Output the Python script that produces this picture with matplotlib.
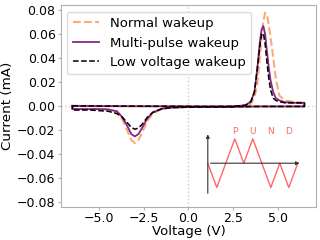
import numpy as np
import matplotlib
matplotlib.use('Agg')
import matplotlib.pyplot as plt

# forward sweep (negative -> positive)
v_fwd = [-6.5, -5, -3, -1, 1, 2.5, 3.2, 3.5, 3.7, 3.85, 4.0, 4.1, 4.2, 4.3, 4.4, 4.5,
         4.6, 4.75, 4.9, 5.1, 5.4, 6.0, 6.5]
normal_fwd = [0.0005, 0.0003, 0.0002, 0.0001, 0.0, 0.0, 0.0005, 0.002, 0.008, 0.017, 0.040,
              0.057, 0.071, 0.078, 0.077, 0.068, 0.058, 0.041, 0.023, 0.009, 0.005, 0.0035, 0.003]
multi_fwd = [0.0005, 0.0003, 0.0002, 0.0001, 0.0, 0.0, 0.001, 0.004, 0.012, 0.030, 0.053,
             0.064, 0.067, 0.060, 0.046, 0.033, 0.022, 0.012, 0.007, 0.005, 0.0035, 0.003, 0.003]
low_fwd = [0.0005, 0.0003, 0.0002, 0.0001, 0.0, 0.0, 0.001, 0.004, 0.012, 0.030, 0.050,
           0.060, 0.061, 0.052, 0.037, 0.024, 0.014, 0.007, 0.005, 0.004, 0.003, 0.003, 0.003]

# backward sweep (positive -> negative)
v_bwd = [6.5, 4, 2, 0, -1, -1.5, -2, -2.3, -2.6, -2.8, -3.0, -3.2, -3.4, -3.7, -4.0,
         -4.5, -5.0, -5.5, -6.0, -6.5]
normal_bwd = [0.0, 0.0, -0.0003, -0.0005, -0.001, -0.002, -0.006, -0.012, -0.022, -0.028,
              -0.0305, -0.028, -0.021, -0.011, -0.005, -0.0025, -0.002, -0.002, -0.002, -0.0022]
multi_bwd = [0.0, 0.0, -0.0003, -0.0005, -0.001, -0.002, -0.005, -0.010, -0.018, -0.023,
             -0.025, -0.023, -0.017, -0.009, -0.004, -0.0025, -0.0022, -0.0022, -0.0022, -0.0022]
low_bwd = [0.0, 0.0, -0.0003, -0.0005, -0.001, -0.002, -0.005, -0.009, -0.015, -0.018,
           -0.019, -0.0175, -0.014, -0.009, -0.006, -0.004, -0.0035, -0.003, -0.003, -0.003]

# PUND waveform for the inset
pund_t = [0, 0.5, 1.5, 2, 2.5, 3.5, 4, 4.5, 5]
pund_v = [0, -1, 1, 0, 1, -1, 0, -1, 0]
pund_labels = ['P', 'U', 'N', 'D']
pund_label_t = [1.5, 2.5, 3.5, 4.5]

V = v_fwd + v_bwd + v_fwd[:1]
normal = normal_fwd + normal_bwd + normal_fwd[:1]
multi = multi_fwd + multi_bwd + multi_fwd[:1]
low = low_fwd + low_bwd + low_fwd[:1]

fig = plt.figure(figsize=(3.2, 2.4), dpi=100)
ax = fig.add_axes([0.19, 0.139, 0.7975, 0.84])

ax.axhline(0, color='#cccccc', ls=':', lw=1, zorder=0)
ax.axvline(0, color='#cccccc', ls=':', lw=1, zorder=0)
ax.plot(V, normal, color='#fea973', ls='--', lw=1.5, label='Normal wakeup')
ax.plot(V, multi, color='#862781', ls='-', lw=1.3, label='Multi-pulse wakeup')
ax.plot(V, low, color='black', ls='--', lw=1.1, label='Low voltage wakeup')

ax.set_ylim(-0.0835, 0.0845)
ax.set_xticks([-5, -2.5, 0, 2.5, 5])
ax.set_yticks([-0.08, -0.06, -0.04, -0.02, 0, 0.02, 0.04, 0.06, 0.08])
ax.tick_params(labelsize=9, color='#b0b0b0', length=2, pad=1.8)
for s in ax.spines.values():
    s.set_color('#b0b0b0')
ax.set_xlabel('Voltage (V)', fontsize=9.5, labelpad=0)
ax.set_ylabel('Current (mA)', fontsize=9.7, labelpad=2)
leg = ax.legend(loc='upper left', fontsize=9.5, framealpha=1)
leg.get_frame().set_edgecolor('#dddddd')

# inset with PUND sequence
ins = fig.add_axes([0.64, 0.175, 0.3125, 0.29])
ins.set_xlim(-0.167, 5.39)
ins.set_ylim(-1.43, 1.43)
ins.axis('off')
ins.plot(pund_t, pund_v, color='red', alpha=0.6, lw=1)
ins.annotate('', xy=(0, 1.3), xytext=(0, -1.35),
             arrowprops=dict(arrowstyle='-|>', lw=0.8, color='#333333', mutation_scale=5))
ins.annotate('', xy=(5.25, 0), xytext=(0, 0),
             arrowprops=dict(arrowstyle='-|>', lw=0.8, color='#333333', mutation_scale=5))
for lab, t in zip(pund_labels, pund_label_t):
    ins.text(t, 1.31, lab, color='red', alpha=0.6, fontsize=6.5, ha='center', va='center')

fig.savefig('out.png', dpi=100)
